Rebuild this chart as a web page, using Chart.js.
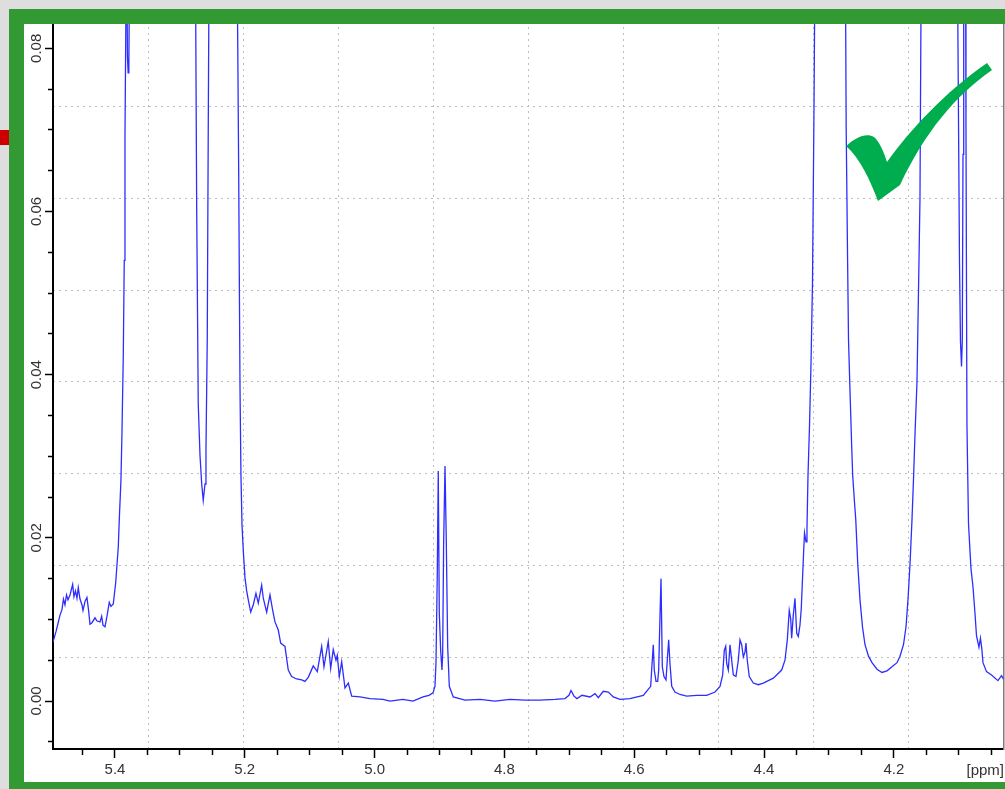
<!DOCTYPE html>
<html>
<head>
<meta charset="utf-8">
<title>1H NMR spectrum, 4.03 – 5.50 ppm</title>
<script src="https://cdn.jsdelivr.net/npm/chart.js@4.4.0/dist/chart.umd.min.js"></script>
<style>
  html, body { margin: 0; padding: 0; background: #dedede; }
  #stage { position: relative; width: 1005px; height: 789px; overflow: hidden; background: #dedede; }
  #paper { position: absolute; left: 24px; top: 24px; width: 1000px; height: 758px; background: #ffffff; }
  #spectrum { position: absolute; left: 0; top: 0; }
  #frame { position: absolute; left: 9px; top: 9px; width: 1030px; height: 788px;
           box-sizing: border-box; border: 15px solid #339933; pointer-events: none; }
  #tab { position: absolute; left: 0; top: 130px; width: 9px; height: 15px; background: #cc0000; }
  #unit { position: absolute; right: 1px; top: 761px; font: 15px 'Liberation Sans', Arial, sans-serif;
          color: #333; line-height: 18px; }
  #tick { position: absolute; left: 0; top: 0; pointer-events: none; }
</style>
</head>
<body>
<div id="stage">
  <div id="paper"></div>
  <canvas id="spectrum" width="1005" height="789"></canvas>
  <div id="unit">[ppm]</div>
  <div id="frame"></div>
  <div id="tab"></div>
  <svg id="tick" width="1005" height="789" viewBox="0 0 1005 789">
    <path d="M846,146 C855,138 866,132 874,137 C879,141 884,152 887,162 C910,130 945,92 987,63 L992,70 C955,96 925,132 900,185 L878,201 C870,180 860,158 846,146 Z" fill="#00ad4e"/>
  </svg>
</div>
<script>
// Chemical shift (ppm) of each sampled point, high to low field
const ppm = [
  5.4970, 5.4948, 5.4909, 5.4878, 5.4848, 5.4817, 5.4794, 5.4771, 5.4747, 5.4724,
  5.4693, 5.4652, 5.4632, 5.4609, 5.4586, 5.4566, 5.4539, 5.4509, 5.4493, 5.4462,
  5.4432, 5.4408, 5.4385, 5.4355, 5.4308, 5.4277, 5.4231, 5.4205, 5.4185, 5.4154,
  5.4123, 5.4088, 5.4062, 5.4026, 5.3989, 5.3949, 5.3934, 5.3908, 5.3892, 5.3872,
  5.3857, 5.3846, 5.3831, 5.3818, 5.3808, 5.3797, 5.3786, 5.3775, 5.3754, 5.3307,
  5.2783, 5.2760, 5.2741, 5.2717, 5.2690, 5.2664, 5.2640, 5.2613, 5.2598, 5.2578,
  5.2563, 5.2547, 5.2382, 5.2128, 5.2108, 5.2094, 5.2074, 5.2059, 5.2043, 5.2023,
  5.1997, 5.1971, 5.1946, 5.1909, 5.1869, 5.1828, 5.1792, 5.1740, 5.1715, 5.1663,
  5.1612, 5.1570, 5.1535, 5.1484, 5.1447, 5.1381, 5.1330, 5.1278, 5.1201, 5.1123,
  5.1073, 5.1022, 5.0945, 5.0883, 5.0815, 5.0780, 5.0714, 5.0677, 5.0637, 5.0595,
  5.0575, 5.0544, 5.0507, 5.0456, 5.0405, 5.0353, 5.0225, 5.0071, 4.9871, 4.9763,
  4.9563, 4.9409, 4.9254, 4.9162, 4.9100, 4.9070, 4.9054, 4.9034, 4.9019, 4.9003,
  4.8982, 4.8962, 4.8951, 4.8936, 4.8915, 4.8895, 4.8874, 4.8849, 4.8788, 4.8607,
  4.8376, 4.8145, 4.7914, 4.7683, 4.7452, 4.7221, 4.7067, 4.7005, 4.6974, 4.6928,
  4.6882, 4.6805, 4.6681, 4.6604, 4.6553, 4.6476, 4.6399, 4.6322, 4.6219, 4.6065,
  4.5860, 4.5746, 4.5731, 4.5706, 4.5691, 4.5664, 4.5638, 4.5623, 4.5603, 4.5587,
  4.5567, 4.5541, 4.5510, 4.5490, 4.5469, 4.5449, 4.5422, 4.5372, 4.5295, 4.5191,
  4.5037, 4.4883, 4.4755, 4.4678, 4.4637, 4.4612, 4.4590, 4.4575, 4.4550, 4.4524,
  4.4498, 4.4473, 4.4432, 4.4396, 4.4370, 4.4344, 4.4319, 4.4293, 4.4278, 4.4258,
  4.4227, 4.4165, 4.4088, 4.4011, 4.3857, 4.3728, 4.3677, 4.3641, 4.3611, 4.3589,
  4.3574, 4.3549, 4.3523, 4.3496, 4.3472, 4.3446, 4.3426, 4.3392, 4.3376, 4.3353,
  4.3338, 4.3322, 4.3299, 4.3276, 4.3253, 4.3230, 4.3215, 4.3199, 4.2983, 4.2752,
  4.2734, 4.2714, 4.2698, 4.2675, 4.2649, 4.2634, 4.2606, 4.2586, 4.2555, 4.2521,
  4.2483, 4.2444, 4.2390, 4.2336, 4.2259, 4.2182, 4.2105, 4.2028, 4.1951, 4.1905,
  4.1851, 4.1812, 4.1782, 4.1751, 4.1720, 4.1697, 4.1674, 4.1643, 4.1620, 4.1597,
  4.1581, 4.1566, 4.1289, 4.1027, 4.1011, 4.0988, 4.0973, 4.0957, 4.0945, 4.0934,
  4.0923, 4.0903, 4.0888, 4.0873, 4.0849, 4.0811, 4.0780, 4.0749, 4.0726, 4.0688,
  4.0665, 4.0644, 4.0626, 4.0572, 4.0495, 4.0395, 4.0341, 4.0302
];

// Signal intensity at each shift above
const intensity = [
  0.0070, 0.0074, 0.0085, 0.0095, 0.0105, 0.0112, 0.0125, 0.0118, 0.0130, 0.0124,
  0.0130, 0.0143, 0.0128, 0.0135, 0.0126, 0.0139, 0.0125, 0.0118, 0.0111, 0.0122,
  0.0127, 0.0112, 0.0094, 0.0096, 0.0102, 0.0098, 0.0097, 0.0104, 0.0093, 0.0091,
  0.0104, 0.0121, 0.0116, 0.0119, 0.0145, 0.0189, 0.0222, 0.0271, 0.0330, 0.0424,
  0.0540, 0.0689, 0.0850, 0.0900, 0.0790, 0.0770, 0.0785, 0.0900, 0.1200, 0.2500,
  0.1100, 0.0900, 0.0602, 0.0364, 0.0301, 0.0266, 0.0246, 0.0266, 0.0309, 0.0445,
  0.0700, 0.0950, 0.2000, 0.1000, 0.0800, 0.0648, 0.0386, 0.0277, 0.0216, 0.0184,
  0.0151, 0.0135, 0.0124, 0.0109, 0.0118, 0.0132, 0.0120, 0.0142, 0.0126, 0.0109,
  0.0130, 0.0111, 0.0097, 0.0087, 0.0071, 0.0067, 0.0038, 0.0030, 0.0027, 0.0026,
  0.0024, 0.0029, 0.0043, 0.0036, 0.0067, 0.0042, 0.0073, 0.0040, 0.0063, 0.0050,
  0.0056, 0.0030, 0.0048, 0.0016, 0.0022, 0.0006, 0.0005, 0.0003, 0.0002, 0.0000,
  0.0002, 0.0000, 0.0005, 0.0007, 0.0010, 0.0018, 0.0047, 0.0157, 0.0282, 0.0108,
  0.0062, 0.0038, 0.0059, 0.0194, 0.0288, 0.0194, 0.0067, 0.0018, 0.0005, 0.0001,
  0.0002, 0.0000, 0.0002, 0.0001, 0.0001, 0.0002, 0.0003, 0.0007, 0.0013, 0.0006,
  0.0003, 0.0007, 0.0005, 0.0009, 0.0004, 0.0012, 0.0011, 0.0005, 0.0002, 0.0003,
  0.0007, 0.0018, 0.0038, 0.0069, 0.0038, 0.0024, 0.0024, 0.0038, 0.0103, 0.0150,
  0.0042, 0.0030, 0.0026, 0.0050, 0.0075, 0.0046, 0.0018, 0.0011, 0.0008, 0.0006,
  0.0007, 0.0007, 0.0011, 0.0018, 0.0032, 0.0062, 0.0067, 0.0046, 0.0038, 0.0069,
  0.0050, 0.0032, 0.0030, 0.0050, 0.0075, 0.0069, 0.0054, 0.0060, 0.0071, 0.0050,
  0.0030, 0.0022, 0.0020, 0.0022, 0.0028, 0.0038, 0.0050, 0.0075, 0.0111, 0.0101,
  0.0077, 0.0105, 0.0126, 0.0083, 0.0079, 0.0093, 0.0113, 0.0178, 0.0206, 0.0195,
  0.0211, 0.0277, 0.0337, 0.0413, 0.0512, 0.0725, 0.0900, 0.1200, 0.3000, 0.1000,
  0.0703, 0.0553, 0.0443, 0.0380, 0.0312, 0.0277, 0.0244, 0.0222, 0.0167, 0.0124,
  0.0091, 0.0069, 0.0055, 0.0047, 0.0039, 0.0035, 0.0037, 0.0042, 0.0047, 0.0055,
  0.0069, 0.0091, 0.0124, 0.0167, 0.0222, 0.0271, 0.0326, 0.0391, 0.0501, 0.0615,
  0.0850, 0.1100, 0.3000, 0.1000, 0.0800, 0.0539, 0.0441, 0.0410, 0.0441, 0.0670,
  0.0950, 0.1200, 0.0698, 0.0337, 0.0217, 0.0162, 0.0140, 0.0107, 0.0080, 0.0066,
  0.0077, 0.0064, 0.0047, 0.0036, 0.0032, 0.0025, 0.0031, 0.0026
];

// Labelled ticks on each axis
const xLabelTicks = [5.4, 5.2, 5.0, 4.8, 4.6, 4.4, 4.2];
const yLabelTicks = [0.00, 0.02, 0.04, 0.06, 0.08];

// Displayed window
const ppmWindow = [4.0310, 5.4955];
const intensityWindow = [-0.00588, 0.08413];

const isLabelled = (v, list) => list.some(m => Math.abs(m - v) < 1e-7);
const tickFont = { family: "'Liberation Sans', Arial, sans-serif", size: 15 };
const gridColor = (last) => (c) => (c.tick && (c.tick.value === 0 || c.tick.value === last)) ? 'rgba(0,0,0,0)' : '#bcbcbc';

const points = ppm.map((x, i) => ({ x, y: intensity[i] }));

new Chart(document.getElementById('spectrum'), {
  type: 'line',
  data: {
    datasets: [{
      data: points,
      borderColor: 'rgb(45,45,255)',
      borderWidth: 1.3,
      pointRadius: 0,
      tension: 0,
      fill: false
    }]
  },
  options: {
    responsive: false,
    animation: false,
    devicePixelRatio: 1,
    layout: { padding: { left: 0, top: 14.6, right: 1.5, bottom: 0 } },
    plugins: { legend: { display: false }, tooltip: { enabled: false } },
    scales: {
      x: {
        type: 'linear', position: 'bottom', reverse: true,
        min: ppmWindow[0], max: ppmWindow[1],
        ticks: {
          stepSize: 0.05, includeBounds: false, autoSkip: false,
          minRotation: 0, maxRotation: 0, padding: 3,
          color: '#333', font: tickFont,
          callback: v => isLabelled(v, xLabelTicks) ? v.toFixed(1) : ''
        },
        grid: {
          drawOnChartArea: false, drawTicks: true, tickLength: 9,
          tickWidth: 1.5, tickColor: '#000',
          tickBorderDash: c => isLabelled(c.tick.value, xLabelTicks) ? [] : [5, 100]
        },
        border: { display: true, color: '#000', width: 2 },
        afterFit: s => { s.height = 40; }
      },
      y: {
        type: 'linear', position: 'left',
        min: intensityWindow[0], max: intensityWindow[1],
        ticks: {
          stepSize: 0.005, includeBounds: false, autoSkip: false,
          minRotation: 90, maxRotation: 90, crossAlign: 'center', padding: -6,
          color: '#333', font: tickFont,
          callback: v => isLabelled(v, yLabelTicks) ? v.toFixed(2) : ''
        },
        grid: {
          drawOnChartArea: false, drawTicks: true, tickLength: 8,
          tickWidth: 1.5, tickColor: '#000',
          tickBorderDash: c => isLabelled(c.tick.value, yLabelTicks) ? [] : [0, 3, 4, 100]
        },
        border: { display: true, color: '#000', width: 2 },
        afterFit: s => { s.width = 53; }
      },
      gx: {
        type: 'linear', position: 'top', min: 0, max: 10,
        ticks: { display: false, stepSize: 1 },
        grid: { color: gridColor(10), lineWidth: 1, drawTicks: false },
        border: { display: false, dash: [2, 4] },
        afterFit: s => { s.height = 0; }
      },
      gy: {
        type: 'linear', position: 'right', min: 0, max: 8,
        ticks: { display: false, stepSize: 1 },
        grid: { color: gridColor(8), lineWidth: 1, drawTicks: false },
        border: { display: true, color: '#7c7c7c', width: 1.5, dash: [2, 4] },
        afterFit: s => { s.width = 0; }
      }
    }
  }
});
</script>
</body>
</html>
